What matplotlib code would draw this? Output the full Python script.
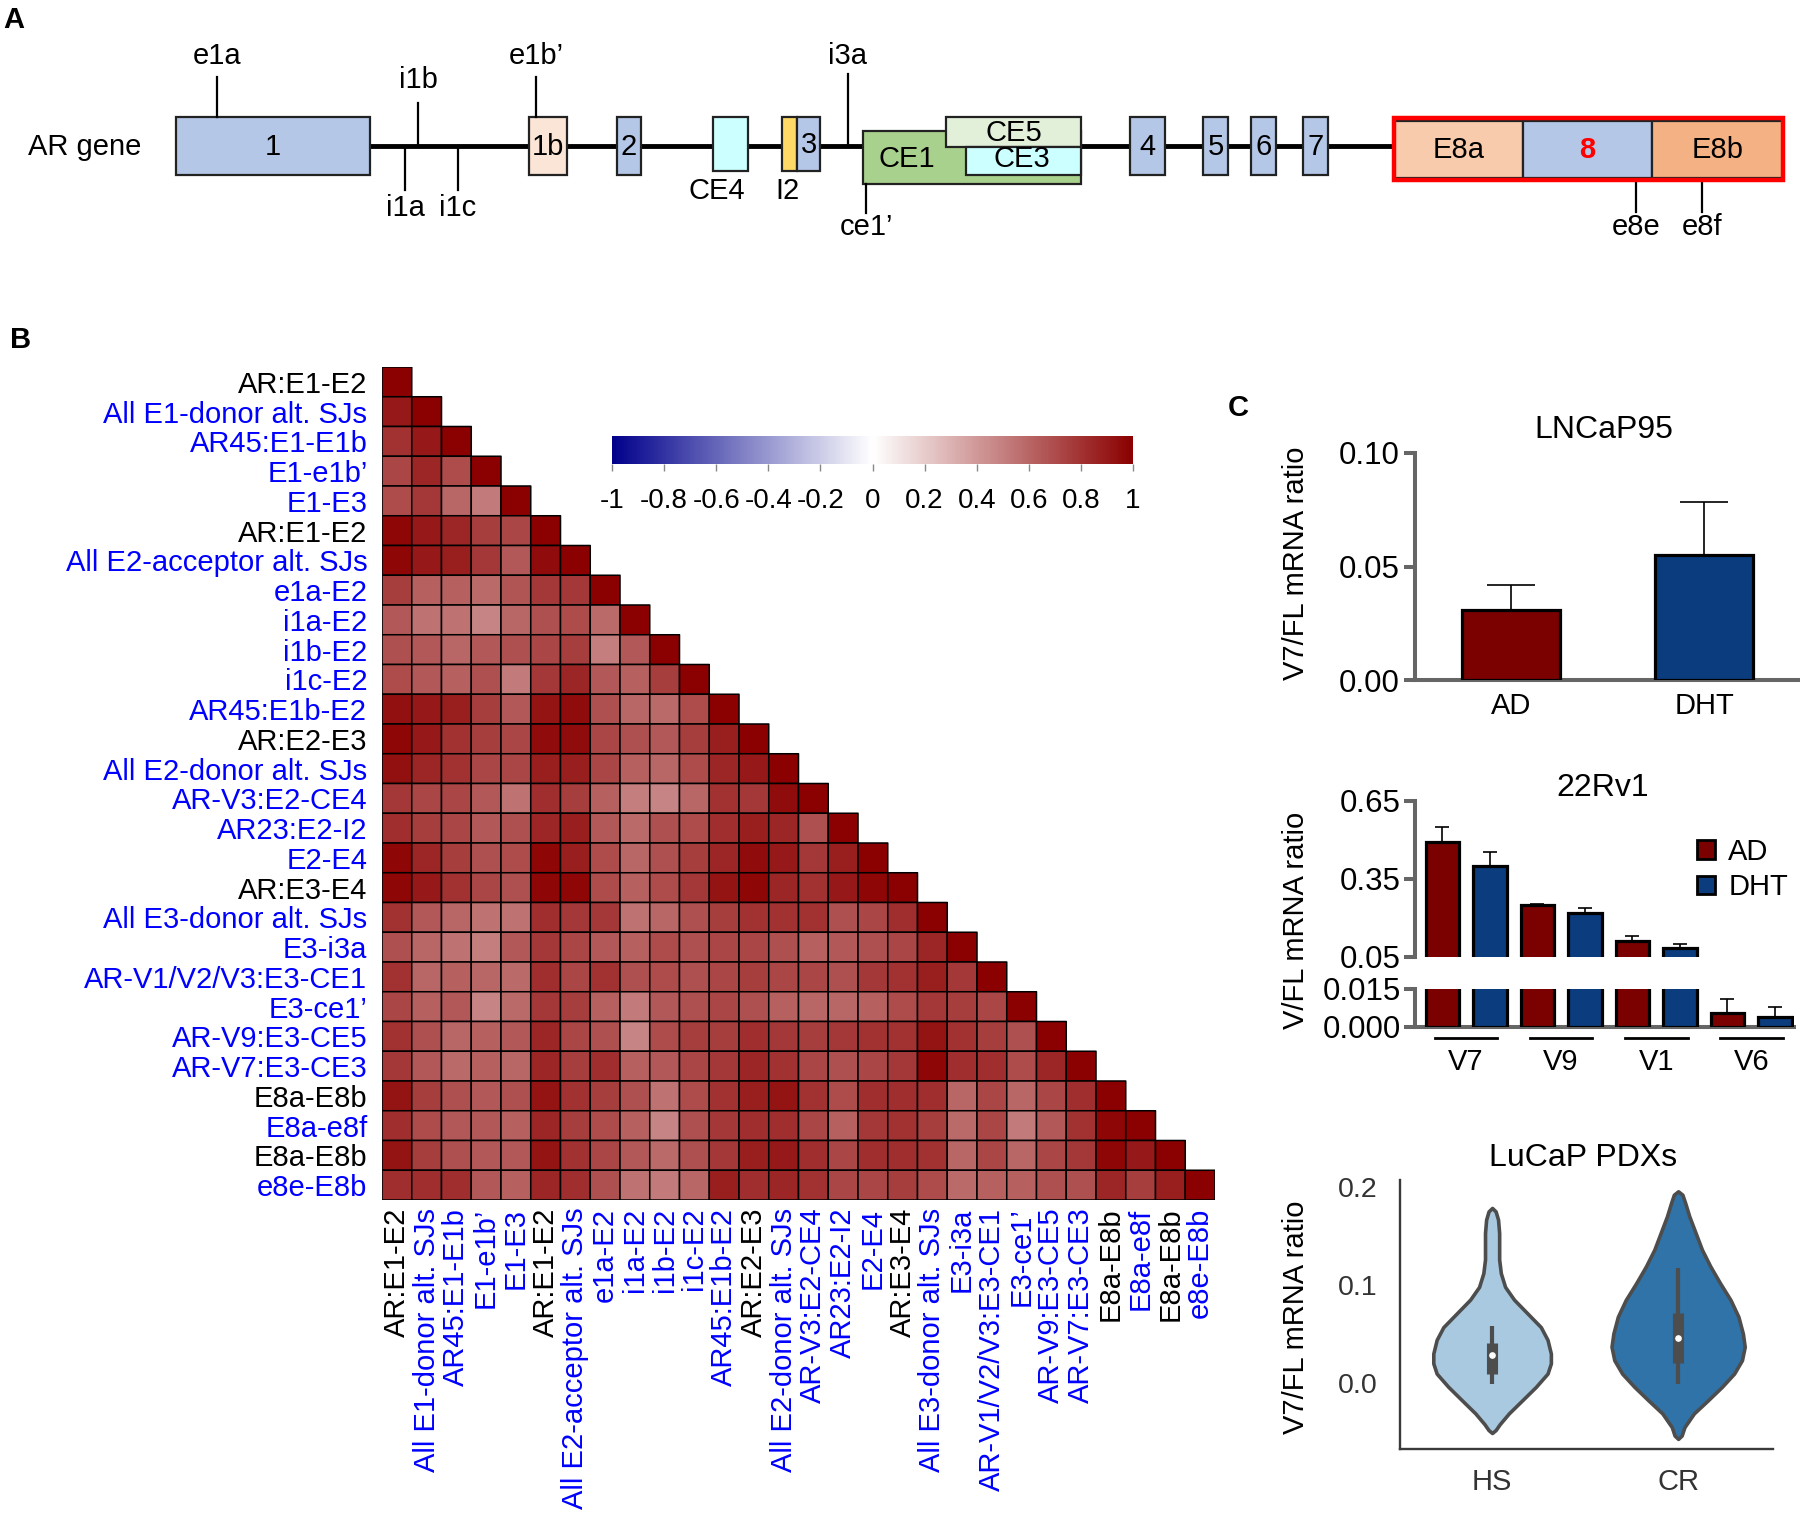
import numpy as np
import matplotlib
matplotlib.use('Agg')
import matplotlib.pyplot as plt
from matplotlib.patches import Rectangle, Patch
from matplotlib.colors import LinearSegmentedColormap
import matplotlib.transforms as mtransforms

plt.rcParams['font.family'] = ['Liberation Sans', 'DejaVu Sans']

# ---------------- data ----------------
# Panel A: AR gene structure (diagram coordinates)
exon_labels = ['1', '1b', '2', 'CE4', 'I2', '3', 'CE1', 'CE5', 'CE3', '4', '5', '6', '7', 'E8a', '8', 'E8b']
exon_left = [176, 529, 617, 713, 782, 797, 863, 946, 966, 1130, 1203, 1251, 1303, 1394, 1523, 1652]
exon_right = [370, 567, 641, 748, 797, 820, 1081, 1081, 1081, 1165, 1228, 1276, 1328, 1523, 1652, 1783]
exon_top = [117, 117, 117, 117, 117, 117, 131, 117, 147, 117, 117, 117, 117, 121, 121, 121]
exon_bottom = [175, 175, 175, 171, 171, 171, 184, 147, 175, 175, 175, 175, 175, 178, 178, 178]
exon_colors = ['#b4c7e7', '#fbe5d6', '#b4c7e7', '#ccffff', '#ffd966', '#b4c7e7', '#a9d18e',
               '#e2f0d9', '#ccffff', '#b4c7e7', '#b4c7e7', '#b4c7e7', '#b4c7e7', '#f8cbad',
               '#b4c7e7', '#f4b183']
site_labels = ['e1a', 'i1b', 'e1b\u2019', 'i3a', 'i1a', 'i1c', 'ce1\u2019', 'e8e', 'e8f']
site_x = [217, 418, 536, 848, 405, 458, 866, 1636, 1702]
site_y0 = [117, 146, 117, 146, 146, 146, 184, 181, 181]
site_y1 = [77, 103, 77, 74, 190, 190, 213, 212, 212]
site_text_y = [56, 80, 56, 56, 208, 208, 227, 227, 227]

# Panel B: correlation matrix (lower triangle)
sj_labels = ['AR:E1-E2', 'All E1-donor alt. SJs', 'AR45:E1-E1b', 'E1-e1b\u2019', 'E1-E3',
             'AR:E1-E2', 'All E2-acceptor alt. SJs', 'e1a-E2', 'i1a-E2', 'i1b-E2', 'i1c-E2',
             'AR45:E1b-E2', 'AR:E2-E3', 'All E2-donor alt. SJs', 'AR-V3:E2-CE4', 'AR23:E2-I2',
             'E2-E4', 'AR:E3-E4', 'All E3-donor alt. SJs', 'E3-i3a', 'AR-V1/V2/V3:E3-CE1',
             'E3-ce1\u2019', 'AR-V9:E3-CE5', 'AR-V7:E3-CE3', 'E8a-E8b', 'E8a-e8f', 'E8a-E8b', 'e8e-E8b']
sj_is_canonical = [1, 0, 0, 0, 0, 1, 0, 0, 0, 0, 0, 0, 1, 0, 0, 0, 0, 1, 0, 0, 0, 0, 0, 0, 1, 0, 1, 0]
corr_lower = [
    [1],
    [0.90, 1],
    [0.80, 0.90, 1],
    [0.72, 0.85, 0.70, 1],
    [0.70, 0.78, 0.60, 0.52, 1],
    [0.97, 0.90, 0.85, 0.75, 0.72, 1],
    [0.97, 0.90, 0.88, 0.78, 0.65, 0.95, 1],
    [0.75, 0.62, 0.62, 0.58, 0.67, 0.78, 0.78, 1],
    [0.65, 0.55, 0.55, 0.48, 0.60, 0.68, 0.70, 0.58, 1],
    [0.68, 0.65, 0.60, 0.65, 0.68, 0.72, 0.75, 0.50, 0.65, 1],
    [0.70, 0.65, 0.62, 0.68, 0.52, 0.78, 0.85, 0.65, 0.62, 0.75, 1],
    [0.93, 0.90, 0.88, 0.75, 0.65, 0.92, 0.95, 0.68, 0.60, 0.58, 0.70, 1],
    [0.97, 0.90, 0.80, 0.75, 0.72, 0.95, 0.95, 0.72, 0.68, 0.65, 0.75, 0.88, 1],
    [0.93, 0.85, 0.80, 0.72, 0.72, 0.88, 0.88, 0.72, 0.62, 0.60, 0.70, 0.85, 0.90, 1],
    [0.78, 0.72, 0.72, 0.65, 0.55, 0.82, 0.75, 0.62, 0.50, 0.48, 0.60, 0.80, 0.78, 0.95, 1],
    [0.82, 0.75, 0.72, 0.65, 0.68, 0.85, 0.88, 0.65, 0.58, 0.68, 0.70, 0.82, 0.88, 0.85, 0.68, 1],
    [0.97, 0.85, 0.75, 0.68, 0.70, 0.97, 0.88, 0.70, 0.60, 0.68, 0.75, 0.85, 0.95, 0.90, 0.78, 0.88, 1],
    [0.97, 0.90, 0.80, 0.72, 0.68, 0.97, 0.97, 0.70, 0.62, 0.70, 0.78, 0.92, 0.97, 0.85, 0.80, 0.90, 0.97, 1],
    [0.80, 0.65, 0.60, 0.55, 0.55, 0.82, 0.78, 0.78, 0.55, 0.60, 0.68, 0.75, 0.80, 0.80, 0.80, 0.68, 0.72, 0.82, 1],
    [0.68, 0.60, 0.55, 0.50, 0.65, 0.78, 0.72, 0.65, 0.62, 0.70, 0.68, 0.72, 0.72, 0.68, 0.62, 0.65, 0.68, 0.72, 0.85, 1],
    [0.80, 0.60, 0.62, 0.60, 0.58, 0.82, 0.72, 0.80, 0.68, 0.70, 0.68, 0.72, 0.75, 0.72, 0.72, 0.68, 0.78, 0.80, 0.88, 0.78, 1],
    [0.72, 0.62, 0.65, 0.48, 0.58, 0.78, 0.75, 0.62, 0.52, 0.65, 0.68, 0.72, 0.68, 0.62, 0.60, 0.60, 0.62, 0.70, 0.78, 0.75, 0.72, 1],
    [0.80, 0.68, 0.60, 0.62, 0.65, 0.85, 0.72, 0.68, 0.48, 0.70, 0.75, 0.75, 0.82, 0.78, 0.75, 0.78, 0.80, 0.80, 0.92, 0.80, 0.75, 0.68, 1],
    [0.78, 0.65, 0.58, 0.62, 0.60, 0.85, 0.75, 0.82, 0.62, 0.65, 0.72, 0.78, 0.85, 0.80, 0.72, 0.68, 0.72, 0.78, 0.97, 0.82, 0.82, 0.70, 0.85, 1],
    [0.92, 0.75, 0.68, 0.65, 0.68, 0.92, 0.80, 0.75, 0.68, 0.55, 0.70, 0.80, 0.88, 0.92, 0.80, 0.70, 0.82, 0.82, 0.82, 0.60, 0.72, 0.60, 0.72, 0.82, 1],
    [0.82, 0.70, 0.65, 0.65, 0.62, 0.85, 0.75, 0.70, 0.62, 0.48, 0.68, 0.78, 0.82, 0.82, 0.72, 0.62, 0.78, 0.80, 0.75, 0.58, 0.72, 0.52, 0.65, 0.80, 0.97, 1],
    [0.92, 0.75, 0.68, 0.65, 0.65, 0.92, 0.80, 0.72, 0.65, 0.58, 0.68, 0.78, 0.88, 0.90, 0.82, 0.72, 0.82, 0.82, 0.80, 0.60, 0.72, 0.60, 0.72, 0.78, 0.97, 0.90, 1],
    [0.82, 0.82, 0.82, 0.65, 0.62, 0.85, 0.82, 0.68, 0.55, 0.52, 0.60, 0.88, 0.82, 0.85, 0.80, 0.72, 0.72, 0.75, 0.70, 0.58, 0.62, 0.62, 0.68, 0.68, 0.85, 0.75, 0.88, 1],
]
cbar_ticks = [-1, -0.8, -0.6, -0.4, -0.2, 0, 0.2, 0.4, 0.6, 0.8, 1]
cbar_ticklabels = ['-1', '-0.8', '-0.6', '-0.4', '-0.2', '0', '0.2', '0.4', '0.6', '0.8', '1']

# Panel C
treatments = ['AD', 'DHT']
lncap_vals = [0.0308, 0.0550]
lncap_err = [0.0111, 0.0233]

variants = ['V7', 'V9', 'V1', 'V6']
rv1_ad = [0.491, 0.250, 0.112, 0.0056]
rv1_ad_err = [0.058, 0.005, 0.018, 0.0056]
rv1_dht = [0.400, 0.218, 0.086, 0.0041]
rv1_dht_err = [0.053, 0.022, 0.014, 0.0037]

pdx_groups = ['HS', 'CR']
hs_y = [0.1785, 0.175, 0.1666, 0.153, 0.139, 0.126, 0.112, 0.098, 0.085, 0.071, 0.057,
        0.044, 0.030, 0.020, 0.0096, -0.004, -0.018, -0.031, -0.042, -0.048, -0.051]
hs_halfwidth = [0.0, 0.019, 0.032, 0.038, 0.038, 0.038, 0.047, 0.070, 0.118, 0.190, 0.262,
                0.298, 0.316, 0.316, 0.298, 0.235, 0.160, 0.090, 0.041, 0.019, 0.0]
cr_y = [0.1955, 0.192, 0.1836, 0.170, 0.153, 0.136, 0.119, 0.1017, 0.0846, 0.0676, 0.0505,
        0.0369, 0.0232, 0.0096, -0.004, -0.0177, -0.031, -0.045, -0.0536, -0.057]
cr_halfwidth = [0.0, 0.023, 0.038, 0.060, 0.094, 0.128, 0.173, 0.226, 0.282, 0.324, 0.348,
                0.358, 0.343, 0.301, 0.235, 0.160, 0.085, 0.034, 0.019, 0.0]
pdx_median = [0.029, 0.046]
pdx_q1 = [0.009, 0.020]
pdx_q3 = [0.041, 0.071]
pdx_wlo = [-0.001, -0.001]
pdx_whi = [0.058, 0.117]

# ---------------- figure ----------------
W, H = 1800, 1515
DPI = 100
fig = plt.figure(figsize=(W / DPI, H / DPI), dpi=DPI)
FS = 21


def px_axes(x0, y0, x1, y1):
    return fig.add_axes([x0 / W, 1 - y1 / H, (x1 - x0) / W, (y1 - y0) / H])


ov = px_axes(0, 0, W, H)
ov.set_xlim(0, W)
ov.set_ylim(H, 0)
ov.axis('off')

# panel letters
ov.text(3, 20, 'A', fontsize=21, fontweight='bold', va='center', ha='left')
ov.text(10, 340, 'B', fontsize=21, fontweight='bold', va='center', ha='left')
ov.text(1228, 408, 'C', fontsize=21, fontweight='bold', va='center', ha='left')

# ---------------- Panel A ----------------
ov.plot([370, 1394], [146, 146], color='black', lw=3.5, solid_capstyle='butt', zorder=1)
ov.text(85, 147, 'AR gene', fontsize=FS, ha='center', va='center')
for lab, x0, x1, y0, y1, c in zip(exon_labels, exon_left, exon_right, exon_top, exon_bottom, exon_colors):
    ov.add_patch(Rectangle((x0, y0), x1 - x0, y1 - y0, facecolor=c, edgecolor='#222222', lw=1.6, zorder=2))
    cx, cy = (x0 + x1) / 2, (y0 + y1) / 2 + 1
    kw = dict(fontsize=FS, ha='center', va='center', zorder=4)
    if lab == 'CE4':
        ov.text(717, 191, lab, **kw)
    elif lab == 'I2':
        ov.text(787, 191, lab, **kw)
    elif lab == 'CE1':
        ov.text(907, 159, lab, **kw)
    elif lab == 'CE3':
        ov.text(1022, 159, lab, **kw)
    elif lab == '8':
        ov.text(cx, cy, lab, color='red', fontweight='bold', **kw)
    else:
        ov.text(cx, cy, lab, **kw)
ov.add_patch(Rectangle((exon_left[13], 118), exon_right[15] - exon_left[13], 62,
                       facecolor='none', edgecolor='red', lw=3.2, zorder=5))
for lab, x, y0, y1, ty in zip(site_labels, site_x, site_y0, site_y1, site_text_y):
    ov.plot([x, x], [y0, y1], color='black', lw=1.6, zorder=3)
    ov.text(x, ty, lab, fontsize=FS, ha='center', va='center')

# ---------------- Panel B ----------------
cmap = LinearSegmentedColormap.from_list('corr', ['#00008B', '#FFFFFF', '#8B0000'])
n = len(sj_labels)
M = np.full((n, n), np.nan)
for i, row in enumerate(corr_lower):
    M[i, :len(row)] = row
axh = px_axes(382, 367, 1215, 1200)
mesh = axh.pcolor(np.arange(n + 1), np.arange(n + 1), np.ma.masked_invalid(M), cmap=cmap,
                  vmin=-1, vmax=1, edgecolors='black', linewidth=1.1)
axh.set_xlim(0, n)
axh.set_ylim(n, 0)
axh.patch.set_alpha(0)
for s in axh.spines.values():
    s.set_visible(False)
label_colors = ['black' if c else '#0000FF' for c in sj_is_canonical]
axh.set_yticks(np.arange(n) + 0.5)
axh.set_yticklabels(sj_labels, fontsize=FS)
axh.set_xticks(np.arange(n) + 0.5)
axh.set_xticklabels(sj_labels, fontsize=FS, rotation=90)
axh.tick_params(axis='y', length=0, pad=10.5)
axh.tick_params(axis='x', length=0, pad=5.5)
for t, c in zip(axh.get_yticklabels(), label_colors):
    t.set_color(c)
for t, c in zip(axh.get_xticklabels(), label_colors):
    t.set_color(c)

cax = px_axes(612, 436, 1133, 464)
cb = fig.colorbar(mesh, cax=cax, orientation='horizontal', ticks=cbar_ticks)
cb.outline.set_visible(False)
cb.set_ticklabels(cbar_ticklabels)
cax.tick_params(length=5, width=1, color='#888888', labelsize=20, pad=12)

# ---------------- Panel C ----------------
c_ad, c_dht = '#7b0000', '#0b3c7d'
spine_c = '#666666'
TICK_FS = 22.5
TITLE_FS = 23


def style_axis(ax, left=True, bottom=True):
    for s in ['top', 'right']:
        ax.spines[s].set_visible(False)
    ax.spines['left'].set_visible(left)
    ax.spines['bottom'].set_visible(bottom)
    for s in ['left', 'bottom']:
        ax.spines[s].set_color(spine_c)
        ax.spines[s].set_linewidth(2.9)
    ax.patch.set_alpha(0)


# LNCaP95
ax1 = px_axes(1415, 453, 1800, 680)
xp = np.arange(len(treatments))
ax1.errorbar(xp, lncap_vals, yerr=[[0] * len(xp), lncap_err], fmt='none', ecolor='black',
             elinewidth=1.2, capsize=17.5, capthick=1.2, zorder=2)
ax1.bar(xp, lncap_vals, width=0.503, color=[c_ad, c_dht], edgecolor='black', linewidth=2.3, zorder=3)
ax1.set_xlim(-0.497, 1.497)
ax1.set_ylim(0, 0.1)
ax1.set_yticks([0, 0.05, 0.10])
ax1.set_yticklabels(['0.00', '0.05', '0.10'])
ax1.set_xticks(xp)
ax1.set_xticklabels(treatments)
style_axis(ax1)
ax1.tick_params(axis='y', length=8, width=2.9, color=spine_c, labelsize=TICK_FS, pad=3)
ax1.tick_params(axis='x', length=0, labelsize=FS, pad=9)
ov.text(1604, 430, 'LNCaP95', fontsize=TITLE_FS, ha='center', va='center')
ov.text(1296, 563, 'V7/FL mRNA ratio', fontsize=FS, rotation=90, ha='center', va='center')

# 22Rv1 (broken axis)
axu = px_axes(1415, 801, 1794, 957)
axl = px_axes(1415, 989, 1794, 1027)
g = np.arange(len(variants))
for ax in (axu, axl):
    ax.errorbar(g - 0.25, rv1_ad, yerr=[[0] * 4, rv1_ad_err], fmt='none', ecolor='black',
                elinewidth=1.2, capsize=5, capthick=1.2, zorder=2)
    ax.errorbar(g + 0.25, rv1_dht, yerr=[[0] * 4, rv1_dht_err], fmt='none', ecolor='black',
                elinewidth=1.2, capsize=5, capthick=1.2, zorder=2)
    ax.bar(g - 0.25, rv1_ad, width=0.353, color=c_ad, edgecolor='black', linewidth=2.3, zorder=3,
           label='AD')
    ax.bar(g + 0.25, rv1_dht, width=0.353, color=c_dht, edgecolor='black', linewidth=2.3, zorder=3,
           label='DHT')
    ax.set_xlim(-0.537, 3.45)
axu.set_ylim(0.05, 0.65)
axu.set_yticks([0.05, 0.35, 0.65])
axu.set_yticklabels(['0.05', '0.35', '0.65'])
axu.set_xticks([])
style_axis(axu, bottom=False)
axu.tick_params(axis='y', length=8, width=2.9, color=spine_c, labelsize=TICK_FS, pad=2)
axl.set_ylim(0, 0.015)
axl.set_yticks([0, 0.015])
axl.set_yticklabels(['0.000', '0.015'])
axl.set_xticks(g)
axl.set_xticklabels(variants)
style_axis(axl)
axl.tick_params(axis='y', length=8, width=2.9, color=spine_c, labelsize=TICK_FS, pad=2)
axl.tick_params(axis='x', length=0, labelsize=FS, pad=15)
trans = mtransforms.blended_transform_factory(axl.transData, axl.transAxes)
for gi in g:
    axl.plot([gi - 0.33, gi + 0.33], [-0.29, -0.29], color='black', lw=2, transform=trans, clip_on=False)
axu.legend(handles=[Patch(facecolor=c_ad, edgecolor='black', lw=2, label='AD'),
                    Patch(facecolor=c_dht, edgecolor='black', lw=2, label='DHT')],
           loc='upper left', bbox_to_anchor=(1697 / W, 1 - 838 / H), bbox_transform=fig.transFigure,
           frameon=False, fontsize=21, handlelength=0.62, handleheight=0.62, handletextpad=0.45,
           labelspacing=0.25, borderpad=0, borderaxespad=0)
ov.text(1603, 788, '22Rv1', fontsize=TITLE_FS, ha='center', va='center')
ov.text(1296, 920, 'V/FL mRNA ratio', fontsize=FS, rotation=90, ha='center', va='center')

# LuCaP PDXs violins
axv = px_axes(1400, 1180, 1773, 1449)
violin_cols = ['#a8c9e0', '#2f73a8']
edge_c = '#4d4d4d'
profiles = [(hs_y, hs_halfwidth), (cr_y, cr_halfwidth)]
for i, (yy, hw) in enumerate(profiles):
    yy = np.asarray(yy)
    hw = np.asarray(hw)
    axv.fill_betweenx(yy, i - hw, i + hw, facecolor=violin_cols[i], edgecolor=edge_c, lw=2.6, zorder=2)
    axv.plot([i, i], [pdx_wlo[i], pdx_whi[i]], color=edge_c, lw=3.0, solid_capstyle='butt', zorder=3)
    axv.plot([i, i], [pdx_q1[i], pdx_q3[i]], color=edge_c, lw=8, solid_capstyle='butt', zorder=3)
    axv.plot([i], [pdx_median[i]], 'o', color='white', ms=3.8, zorder=4)
axv.set_xlim(-0.495, 1.51)
axv.set_ylim(-0.0673, 0.207)
axv.set_xticks([0, 1])
axv.set_xticklabels(pdx_groups)
axv.set_yticks([0, 0.1, 0.2])
axv.set_yticklabels(['0.0', '0.1', '0.2'])
for s in ['top', 'right']:
    axv.spines[s].set_visible(False)
for s in ['left', 'bottom']:
    axv.spines[s].set_color('#3a3a3a')
    axv.spines[s].set_linewidth(1.7)
axv.patch.set_alpha(0)
axv.tick_params(axis='both', length=0, labelcolor='#333333')
axv.tick_params(axis='y', pad=16, labelsize=20.5)
axv.tick_params(axis='x', pad=14, labelsize=21)
ov.text(1583, 1158, 'LuCaP PDXs', fontsize=TITLE_FS, ha='center', va='center')
ov.text(1296, 1317, 'V7/FL mRNA ratio', fontsize=FS, rotation=90, ha='center', va='center')

fig.savefig('out.png', dpi=DPI)
